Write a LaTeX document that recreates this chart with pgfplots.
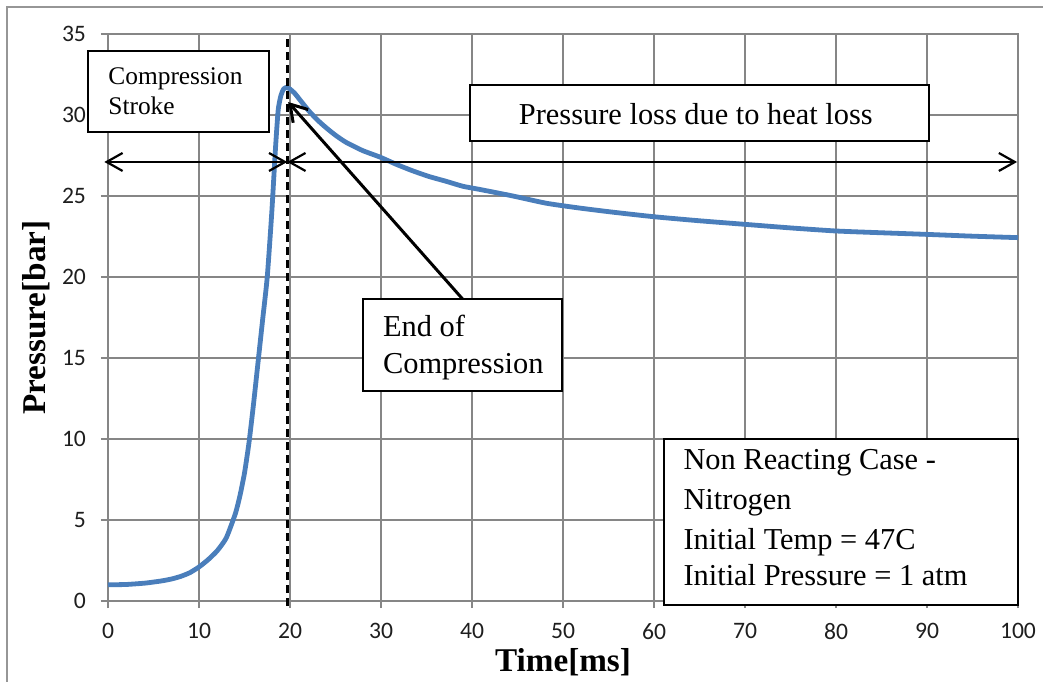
\documentclass[border=0pt]{standalone}
\usepackage{pgfplots}
\pgfplotsset{compat=1.18}
\usepackage{fontspec}
\setmainfont{Liberation Serif}
\newfontfamily\calibri{Carlito}
\usetikzlibrary{arrows.meta}

\definecolor{seriesblue}{RGB}{74,126,187}
\definecolor{gridgray}{RGB}{134,134,134}
\definecolor{framegray}{RGB}{150,150,150}
\definecolor{ticktext}{RGB}{30,30,30}

\begin{document}
\begin{tikzpicture}
% page extent and chart-area frame
\useasboundingbox (-54pt,-40pt) rectangle (467.5pt,300.5pt);
\draw[framegray, line width=1.4pt] (-50.5pt,-41pt) -- (-50.5pt,297pt) -- (468pt,297pt);

\begin{axis}[
  at={(0pt,0pt)}, anchor=south west,
  scale only axis, width=455pt, height=283.5pt,
  xmin=0, xmax=100, ymin=0, ymax=35,
  xtick={0,10,...,100}, ytick={0,5,...,35},
  grid=major,
  grid style={gridgray, line width=0.6pt},
  axis line style={gridgray, line width=0.6pt},
  tick style={gridgray, line width=0.6pt},
  tick align=outside, major tick length=3.5pt,
  xtick pos=bottom, ytick pos=left,
  /pgf/number format/assume math mode=true,
  ticklabel style={font=\calibri\fontsize{11.8}{13}\selectfont, text=ticktext},
  xticklabel style={yshift=-4pt},
  yticklabel style={xshift=-4pt},
  xlabel={Time[ms]}, ylabel={Pressure[bar]},
  label style={font=\bfseries\fontsize{16.6}{20}\selectfont},
  x label style={at={(axis description cs:0.5,-0.1245)}, anchor=base},
  y label style={at={(axis description cs:-0.0692,0.5)}, anchor=base},
  clip=false,
]

% measured pressure trace
\addplot[seriesblue, line width=2.4pt, line join=round, smooth, tension=0.35] coordinates {
  (0,1.00) (2,1.02) (4,1.10) (5,1.17) (6,1.25) (7,1.36) (8,1.52) (9,1.75)
  (10,2.10) (11,2.55) (12,3.10) (13,3.90) (14,5.40) (14.5,6.50) (15,7.90)
  (15.5,9.80) (16,12.2) (16.5,14.8) (17,17.4) (17.5,20.0) (18,24.0)
  (18.4,27.9) (18.7,30.3) (19.0,31.2) (19.3,31.6) (19.6,31.7) (20,31.6)
  (20.5,31.35) (21,31.0) (22,30.3) (23,29.7) (24,29.2) (25,28.75)
  (26.2,28.3) (28,27.8) (29.9,27.4) (31.7,26.95) (33.5,26.55) (35.3,26.2)
  (37.2,25.9) (39,25.6) (40.9,25.4) (44.5,25.0) (48.2,24.55) (51.9,24.25)
  (55.5,24.0) (60,23.72) (65,23.47) (70,23.25) (75,23.03) (80,22.84)
  (85,22.73) (90,22.63) (95,22.52) (100,22.43)
};

% end of compression marker
\draw[black, line width=1.3pt, dash pattern=on 4pt off 2.5pt]
  (axis cs:19.7,-0.3) -- (axis cs:19.7,35);

% stroke / heat-loss spans
\draw[black, line width=1.1pt,
  {Straight Barb[length=8pt,width=9pt]}-{Straight Barb[length=8pt,width=9pt]}]
  (axis cs:-0.4,27.1) -- (axis cs:19.7,27.1);
\draw[black, line width=1.1pt,
  {Straight Barb[length=8pt,width=9pt]}-{Straight Barb[length=8pt,width=9pt]}]
  (axis cs:19.7,27.1) -- (axis cs:99.9,27.1);

% Compression Stroke label
\draw[black, line width=1pt, fill=white] (axis cs:-2.2,33.95) rectangle (axis cs:17.7,28.95);
\node[anchor=base west, inner sep=0pt, font=\fontsize{12.7}{15}\selectfont] at (axis cs:0,31.91) {Compression};
\node[anchor=base west, inner sep=0pt, font=\fontsize{12.7}{15}\selectfont] at (axis cs:0,30.0) {Stroke};

% heat-loss label
\draw[black, line width=1.1pt, fill=white] (axis cs:39.8,31.85) rectangle (axis cs:90.2,28.4);
\node[anchor=base, inner sep=0pt, font=\fontsize{15.2}{18}\selectfont] at (axis cs:64.6,29.44) {Pressure loss due to heat loss};

% end of compression callout
\draw[black, line width=1.5pt, -{Straight Barb[length=8pt,width=10pt]}]
  (axis cs:39.0,18.62) -- (axis cs:19.8,30.8);
\draw[black, line width=1.1pt, fill=white] (axis cs:28.05,18.62) rectangle (axis cs:49.9,12.96);
\node[anchor=base west, inner sep=0pt, font=\fontsize{15.2}{18}\selectfont] at (axis cs:30.18,16.3) {End of};
\node[anchor=base west, inner sep=0pt, font=\fontsize{15.2}{18}\selectfont] at (axis cs:30.18,14.07) {Compression};

% test conditions
\draw[black, line width=1.1pt, fill=white] (axis cs:61.1,10.0) rectangle (axis cs:100,-0.25);
\node[anchor=base west, inner sep=0pt, font=\fontsize{15.2}{18}\selectfont] at (axis cs:63.2,8.09) {Non Reacting Case -};
\node[anchor=base west, inner sep=0pt, font=\fontsize{15.2}{18}\selectfont] at (axis cs:63.2,5.62) {Nitrogen};
\node[anchor=base west, inner sep=0pt, font=\fontsize{15.2}{18}\selectfont] at (axis cs:63.2,3.21) {Initial Temp = 47C};
\node[anchor=base west, inner sep=0pt, font=\fontsize{15.2}{18}\selectfont] at (axis cs:63.2,0.93) {Initial Pressure = 1 atm};
\end{axis}
\end{tikzpicture}
\end{document}
